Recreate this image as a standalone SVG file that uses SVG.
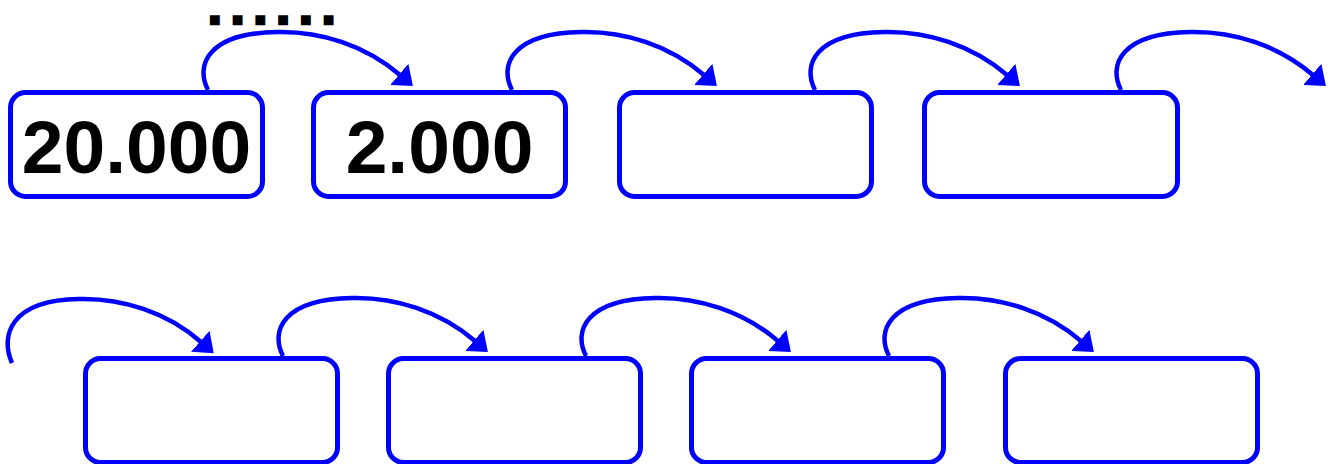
<svg xmlns="http://www.w3.org/2000/svg" width="1337" height="464" viewBox="0 0 1337 464">
  <style>
    .box { fill: #ffffff; stroke: #0000ff; stroke-width: 5; }
    .num { font-family: "Liberation Sans", Arial, sans-serif; font-weight: bold; font-size: 75px; fill: #000000; text-anchor: middle; }
    .dots { font-family: "Liberation Sans", Arial, sans-serif; font-weight: bold; font-size: 24px; letter-spacing: 16.1px; fill: #000000; stroke: #000000; stroke-width: 6.5; stroke-linejoin: miter; }
    .arc { fill: none; stroke: #0000ff; stroke-width: 4.5; marker-end: url(#ah); }
  </style>
  <defs>
    <marker id="ah" markerUnits="userSpaceOnUse" viewBox="0 0 18 28" markerWidth="18" markerHeight="28" refX="1" refY="14" orient="auto">
      <path d="M0,0 L18,14 L0,28 Z" fill="#0000ff"/>
    </marker>
  </defs>
  <rect width="1337" height="464" fill="#ffffff"/>

  <text class="dots" x="211.5" y="22">......</text>

  <g id="node-r1-1"><rect class="box" x="10.5" y="92.5" width="252" height="104" rx="15"/><text class="num" x="136.5" y="173">20.000</text></g>
  <g id="node-r1-2"><rect class="box" x="313.5" y="92.5" width="252" height="104" rx="15"/><text class="num" x="439.5" y="173">2.000</text></g>
  <g id="node-r1-3"><rect class="box" x="619.5" y="92.5" width="252" height="104" rx="15"/></g>
  <g id="node-r1-4"><rect class="box" x="924.5" y="92.5" width="253" height="104" rx="15"/></g>

  <g id="node-r2-1"><rect class="box" x="85.5" y="358.5" width="252" height="104" rx="15"/></g>
  <g id="node-r2-2"><rect class="box" x="388.5" y="358.5" width="252" height="104" rx="15"/></g>
  <g id="node-r2-3"><rect class="box" x="691.5" y="358.5" width="252" height="104" rx="15"/></g>
  <g id="node-r2-4"><rect class="box" x="1005.5" y="358.5" width="252" height="104" rx="15"/></g>

  <g id="connectors">
    <path class="arc" d="M208,90 c-13,-25 0,-57 69,-58 c43,-1 88,13 123,43"/>
    <path class="arc" d="M512,90 c-13,-25 0,-57 69,-58 c43,-1 88,13 123,43"/>
    <path class="arc" d="M815,90 c-13,-25 0,-57 69,-58 c43,-1 88,13 123,43"/>
    <path class="arc" d="M1121,90 c-13,-25 0,-57 69,-58 c43,-1 88,13 123,43"/>
    <path class="arc" d="M12,363 c-12,-27 -2,-63 67,-64 c43,-1 88,13 122,43"/>
    <path class="arc" d="M283,356 c-13,-25 0,-57 69,-58 c43,-1 88,13 123,43"/>
    <path class="arc" d="M586,356 c-13,-25 0,-57 69,-58 c43,-1 88,13 123,43"/>
    <path class="arc" d="M889,356 c-13,-25 0,-57 69,-58 c43,-1 88,13 123,43"/>
  </g>
</svg>
